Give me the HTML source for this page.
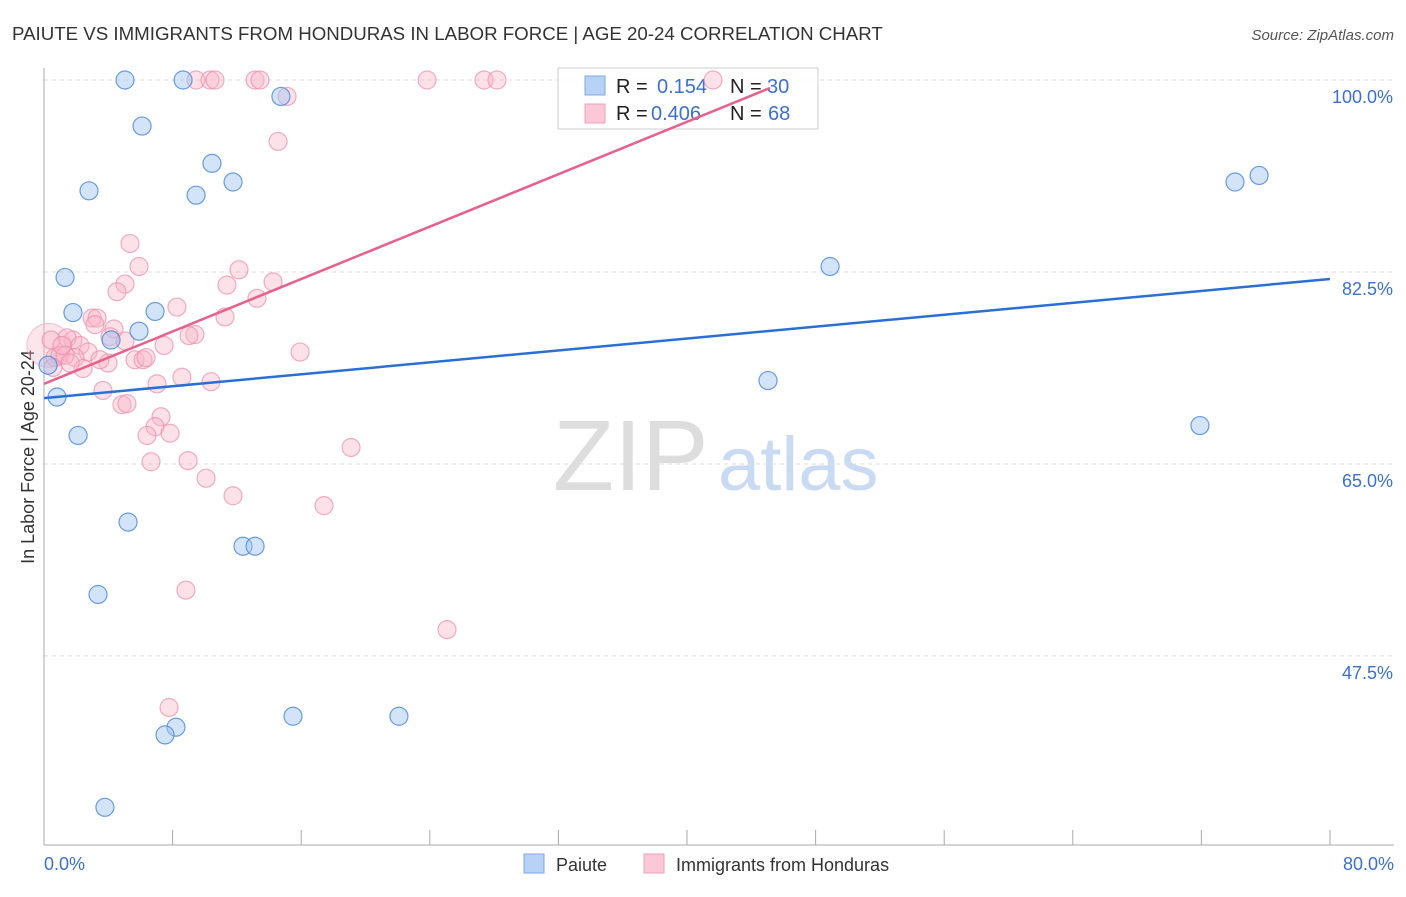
<!DOCTYPE html>
<html><head><meta charset="utf-8"><style>
body{margin:0;background:#fff;font-family:"Liberation Sans",sans-serif;}
svg text{font-family:"Liberation Sans",sans-serif;}
</style></head><body>
<svg id="chart" width="1406" height="892" xmlns="http://www.w3.org/2000/svg">
<text x="12" y="40" font-size="18.7" fill="#333">PAIUTE VS IMMIGRANTS FROM HONDURAS IN LABOR FORCE | AGE 20-24 CORRELATION CHART</text>
<text x="1394" y="40" font-size="15" fill="#555" font-style="italic" text-anchor="end">Source: ZipAtlas.com</text>
<text transform="translate(34,457) rotate(-90)" font-size="18" fill="#333" text-anchor="middle">In Labor Force | Age 20-24</text>
<g>
<text x="553" y="490" font-size="100" fill="#ddd" font-family="Liberation Serif, serif">ZIP</text>
<text x="718" y="490" font-size="76" fill="#c9daf3">atlas</text>
</g>
<g id="grid"></g>
<g id="axes"></g>
<g>
<rect x="558" y="68" width="260" height="61" fill="rgba(255,255,255,0.85)" stroke="#ccc"/>
<rect x="585" y="76" width="20" height="19" fill="#b8d2f5" stroke="#7ea8e6"/>
<rect x="585" y="104" width="20" height="19" fill="#fac8d6" stroke="#f0a0b8"/>
<text x="616" y="93" font-size="20" fill="#222">R = </text><text x="657" y="93" font-size="20" fill="#3b6fd4">0.154</text>
<text x="730" y="93" font-size="20" fill="#222">N = </text><text x="767" y="93" font-size="20" fill="#3b6fd4">30</text>
<text x="616" y="120" font-size="20" fill="#222">R = </text><text x="651" y="120" font-size="20" fill="#3b6fd4">0.406</text>
<text x="730" y="120" font-size="20" fill="#222">N = </text><text x="768" y="120" font-size="20" fill="#3b6fd4">68</text>
</g>
<g id="pts"></g>
<g id="lines"></g>
<g>
<rect x="524" y="854" width="20" height="19" fill="#b8d2f5" stroke="#7ea8e6"/>
<text x="556" y="871" font-size="18" fill="#333">Paiute</text>
<rect x="644" y="854" width="20" height="19" fill="#fac8d6" stroke="#f0a0b8"/>
<text x="676" y="871" font-size="18" fill="#333">Immigrants from Honduras</text>
</g>
</svg>
<script>
const yTicks=[100,82.5,65,47.5];
const yTickLabels=["100.0%","82.5%","65.0%","47.5%"];
const xTickLabels=["0.0%","80.0%"];
const paiuteX=[5.04,8.65,14.74,6.10,10.45,2.80,9.46,11.76,74.09,75.59,1.31,48.90,1.80,6.91,5.91,4.17,0.81,45.04,2.12,71.91,5.23,12.38,13.13,3.36,15.49,22.08,8.21,7.53,3.79,0.25];
const paiuteY=[100,100,98.5,95.8,92.4,89.9,89.5,90.7,90.7,91.3,82.0,83.0,78.8,78.9,77.1,76.3,71.1,72.6,67.6,68.5,59.7,57.5,57.5,53.1,42.0,42.0,41.0,40.3,33.7,74.0];
const hondX=[9.46,10.33,10.64,13.13,13.44,23.83,27.37,28.18,41.62,15.12,14.56,5.35,5.91,12.13,5.04,14.25,4.54,11.38,13.25,8.27,2.99,3.30,11.26,4.35,9.39,9.02,7.47,1.80,1.43,15.93,0.44,0.68,1.00,2.24,2.74,1.93,2.43,3.98,5.66,6.16,6.35,0.56,8.58,7.03,10.39,3.67,4.85,5.16,7.28,6.91,6.41,7.84,19.10,8.96,6.66,10.08,11.76,17.42,8.83,25.07,7.78,1.31,1.12,3.17,4.11,5.04,1.62,3.48];
const hondY=[100,100,100,100,100,100,100,100,100,98.5,94.4,85.1,83.0,82.7,81.4,81.6,80.7,81.3,80.1,79.3,78.3,78.3,78.4,77.3,76.8,76.7,75.8,76.3,76.5,75.2,76.3,74.7,74.9,75.8,75.2,74.7,73.7,74.2,74.5,74.5,74.7,73.8,72.9,72.3,72.5,71.7,70.4,70.5,69.3,68.4,67.6,67.8,66.5,65.3,65.2,63.7,62.1,61.2,53.5,49.9,42.8,74.9,75.8,77.7,76.6,76.2,74.2,74.5];
const paiuteTrend=[[0,71.0],[80,81.86]];
const hondTrend=[[0,72.3],[45.16,99.27]];
const X=v=>44+v/80*1286;
const Y=v=>80+(100-v)*10.97;
const NS="http://www.w3.org/2000/svg";
function mk(t,a,p){const e=document.createElementNS(NS,t);for(const k in a)e.setAttribute(k,a[k]);p.appendChild(e);return e;}
const grid=document.getElementById('grid'),axes=document.getElementById('axes'),pts=document.getElementById('pts'),lines=document.getElementById('lines');
yTicks.forEach((t,i)=>{
 const g=mk('line',{x1:44,x2:1394,y1:Y(t),y2:Y(t),stroke:'#ddd','stroke-dasharray':'4,4'},grid);
 
 
 const l=mk('text',{x:1393,y:Y(t)+23,'font-size':18,fill:'#3b6fd4','text-anchor':'end'},axes);
 l.textContent=yTickLabels[i];
 
 
});
const ya=mk('line',{x1:44,x2:44,y1:68,y2:845,stroke:'#aaa'},axes);


const xa=mk('line',{x1:44,x2:1394,y1:845,y2:845,stroke:'#aaa'},axes);


for(let i=0;i<=10;i++){const t=mk('line',{x1:X(i*8),x2:X(i*8),y1:830,y2:845,stroke:'#aaa'},axes);
 
 }
const xl0=mk('text',{x:44,y:870,'font-size':18,fill:'#3b6fd4'},axes);xl0.textContent=xTickLabels[0];


const xl1=mk('text',{x:1394,y:870,'font-size':18,fill:'#3b6fd4','text-anchor':'end'},axes);xl1.textContent=xTickLabels[1];


const big=mk('circle',{cx:X(0.3),cy:Y(75.8),r:22,fill:'rgba(248,180,200,0.35)',stroke:'rgba(240,160,184,0.6)'},pts);


hondX.forEach((x,i)=>{const c=mk('circle',{cx:X(x),cy:Y(hondY[i]),r:9,fill:'rgba(248,180,200,0.4)',stroke:'rgba(236,140,170,0.7)','stroke-width':1.2},pts);
 
 });
paiuteX.forEach((x,i)=>{const c=mk('circle',{cx:X(x),cy:Y(paiuteY[i]),r:9,fill:'rgba(160,196,240,0.45)',stroke:'rgba(80,140,220,0.85)','stroke-width':1.2},pts);
 
 });
const bl=mk('line',{x1:X(paiuteTrend[0][0]),y1:Y(paiuteTrend[0][1]),x2:X(paiuteTrend[1][0]),y2:Y(paiuteTrend[1][1]),stroke:'#2a6fd6','stroke-width':2.5},lines);


const pl=mk('line',{x1:X(hondTrend[0][0]),y1:Y(hondTrend[0][1]),x2:X(hondTrend[1][0]),y2:Y(hondTrend[1][1]),stroke:'#e8608c','stroke-width':2.5},lines);


</script>
</body></html>
